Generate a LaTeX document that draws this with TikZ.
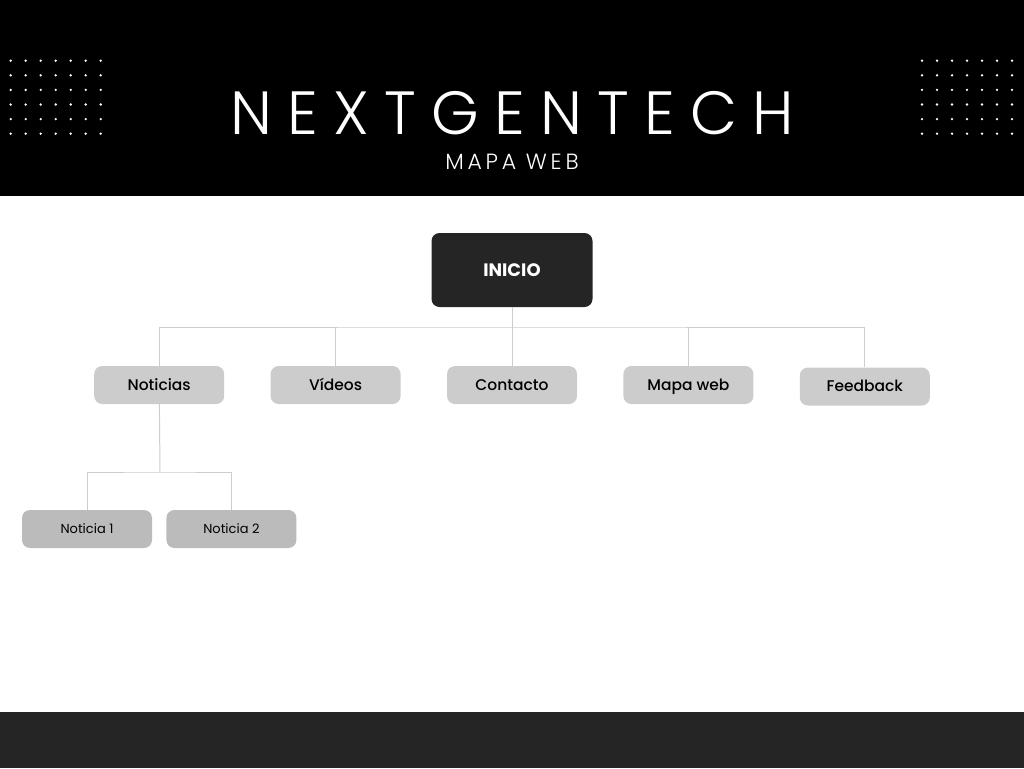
\documentclass[tikz,border=0pt]{standalone}
\usepackage{fontspec}
\setmainfont{Poppins}
\newfontfamily\titlefont[LetterSpace=25]{Poppins Light}
\newfontfamily\subtitlefont[LetterSpace=17]{Poppins Light}
\newfontfamily\labelfont{Poppins Medium}
\usetikzlibrary{positioning}
\definecolor{darkbox}{HTML}{252525}
\definecolor{pagegray}{HTML}{CCCCCC}
\definecolor{subgray}{HTML}{BBBBBB}
\definecolor{linegray}{HTML}{CDCDCD}

\begin{document}
\begin{tikzpicture}
		[x=1pt, y=-1pt,
		mainbox/.style={rectangle, rounded corners=8pt, fill=darkbox, text=white, minimum width=161pt, minimum height=74pt, font=\bfseries\fontsize{18}{20}\selectfont},
		pagebox/.style={rectangle, rounded corners=8pt, fill=pagegray, node distance=46pt, minimum width=130pt, minimum height=38pt, text height=11pt, text depth=1pt, font=\labelfont\fontsize{15.5}{18}\selectfont},
		subbox/.style={rectangle, rounded corners=8pt, fill=subgray, node distance=14pt, minimum width=130pt, minimum height=38pt, font=\fontsize{13}{16}\selectfont},
		link/.style={draw=linegray, line width=1pt}]
		\useasboundingbox (0,0) rectangle (1024,768);
		\fill[black] (0,0) rectangle (1024,196);
		\fill[darkbox] (0,712) rectangle (1024,768);
		\foreach \i in {0,...,6}
			\foreach \j in {0,...,5} {
				\fill[white] (10.7+15*\i, 60.7+14.6*\j) circle (1.3);
				\fill[white] (922+15*\i, 60.7+14.6*\j) circle (1.3);
			}
		\node[text=white, font=\titlefont\fontsize{61}{61}\selectfont] (title) at (512,113) {NEXTGENTECH};
		\node[text=white, font=\subtitlefont\fontsize{22}{22}\selectfont] (subtitle) at (512,162) {MAPA WEB};

		\node[mainbox] (inicio) at (512,270) {INICIO};
		\node[pagebox] (contacto) at (512,385) {Contacto};
		\node[pagebox, left=of contacto] (videos) {Vídeos};
		\node[pagebox, left=of videos] (noticias) {Noticias};
		\node[pagebox, right=of contacto] (mapaweb) {Mapa web};
		\node[pagebox, right=of mapaweb, yshift=-1.5pt] (feedback) {Feedback};
		\node[subbox] (noticia1) at (87,529) {Noticia 1};
		\node[subbox, right=of noticia1] (noticia2) {Noticia 2};

		\coordinate (bus) at (512,327);
		\coordinate (subbus) at (160,472);
		\draw[link] (inicio) -- (contacto);
		\draw[link] (noticias.north) |- (bus) -| (feedback.north);
		\draw[link] (videos.north) -- (videos.north |- bus);
		\draw[link] (mapaweb.north) -- (mapaweb.north |- bus);
		\draw[link] (noticias) -- (subbus);
		\draw[link] (noticia1.north) |- (subbus) -| (noticia2.north);
	\end{tikzpicture}
\end{document}
